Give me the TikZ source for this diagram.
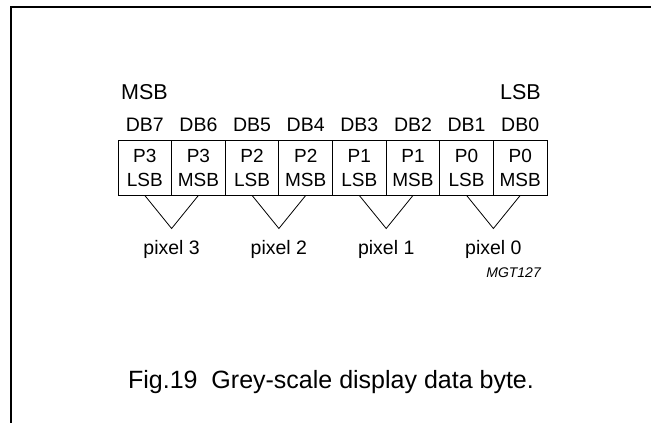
\documentclass[tikz,border=0pt]{standalone}
\usepackage{fontspec}
\setmainfont{Liberation Sans}

\begin{document}
\begin{tikzpicture}[x=1pt,y=-1pt]
\tikzstyle{cell}=[draw,line width=0.9pt,minimum width=53.6pt,minimum height=54.5pt,inner sep=0pt,align=center,font=\fontsize{19}{24}\selectfont]
\tikzstyle{bit}=[inner sep=0pt,anchor=base,font=\fontsize{19.5}{19.5}\selectfont]
\tikzstyle{side}=[inner sep=0pt,font=\fontsize{21.5}{21.5}\selectfont]
\tikzstyle{pix}=[inner sep=0pt,anchor=base,font=\fontsize{19.5}{19.5}\selectfont]
\useasboundingbox (0,0) rectangle (651,423);
\draw[line width=1.8pt] (11,423) -- (11,7) -- (651,7);

\path (121,99.3) node[side,anchor=base west](msb){MSB};
\path (541,99.3) node[side,anchor=base east](lsb){LSB};

\path (144.8,167.75) node[cell](c7){P3\\LSB} (198.4,167.75) node[cell](c6){P3\\MSB};
\path (252.1,167.75) node[cell](c5){P2\\LSB} (305.7,167.75) node[cell](c4){P2\\MSB};
\path (359.3,167.75) node[cell](c3){P1\\LSB} (413.0,167.75) node[cell](c2){P1\\MSB};
\path (466.6,167.75) node[cell](c1){P0\\LSB} (520.2,167.75) node[cell](c0){P0\\MSB};

\path (144.8,131.7) node[bit](d7){DB7} (198.4,131.7) node[bit](d6){DB6};
\path (252.1,131.7) node[bit](d5){DB5} (305.7,131.7) node[bit](d4){DB4};
\path (359.3,131.7) node[bit](d3){DB3} (413.0,131.7) node[bit](d2){DB2};
\path (466.6,131.7) node[bit](d1){DB1} (520.2,131.7) node[bit](d0){DB0};

\coordinate (p3) at (171.6,228.5);
\coordinate (p2) at (278.9,228.5);
\coordinate (p1) at (386.2,228.5);
\coordinate (p0) at (493.4,228.5);
\draw[line width=0.8pt] (c7.south) -- (p3) -- (c6.south);
\draw[line width=0.8pt] (c5.south) -- (p2) -- (c4.south);
\draw[line width=0.8pt] (c3.south) -- (p1) -- (c2.south);
\draw[line width=0.8pt] (c1.south) -- (p0) -- (c0.south);

\path (171.6,254) node[pix](l3){pixel 3} (278.9,254) node[pix](l2){pixel 2};
\path (386.2,254) node[pix](l1){pixel 1} (493.4,254) node[pix](l0){pixel 0};

\path (541,277) node[inner sep=0pt,anchor=base east,font=\fontsize{14}{14}\selectfont\itshape](mgt){MGT127};
\path (331,388) node[inner sep=0pt,anchor=base,font=\fontsize{25}{25}\selectfont](cap){Fig.19\ \ Grey-scale display data byte.};
\end{tikzpicture}
\end{document}
